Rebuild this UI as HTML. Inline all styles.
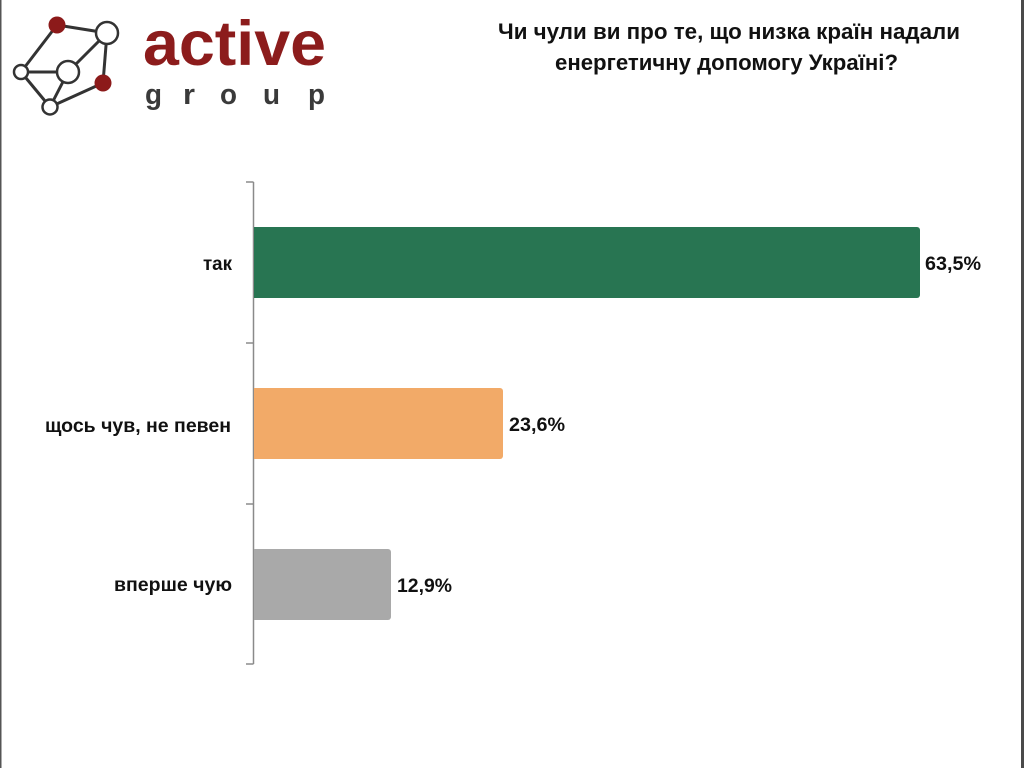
<!DOCTYPE html>
<html>
<head>
<meta charset="utf-8">
<style>
html,body{margin:0;padding:0;background:#fff;}
svg{display:block;}
text{font-family:"Liberation Sans","DejaVu Sans",sans-serif;}
</style>
</head>
<body>
<svg width="1024" height="768" viewBox="0 0 1024 768" xmlns="http://www.w3.org/2000/svg">
  <rect x="0" y="0" width="1024" height="768" fill="#ffffff"/>
  <!-- borders -->
  <rect x="0" y="0" width="1.5" height="768" fill="#555"/>
  <rect x="1021" y="0" width="3" height="768" fill="#4a4a4a"/>

  <!-- logo network -->
  <g stroke="#333" stroke-width="3" fill="none">
    <line x1="57" y1="25" x2="107" y2="33"/>
    <line x1="57" y1="25" x2="21" y2="72"/>
    <line x1="107" y1="33" x2="68" y2="72"/>
    <line x1="107" y1="33" x2="103" y2="83"/>
    <line x1="21" y1="72" x2="68" y2="72"/>
    <line x1="21" y1="72" x2="50" y2="107"/>
    <line x1="68" y1="72" x2="50" y2="107"/>
    <line x1="50" y1="107" x2="103" y2="83"/>
  </g>
  <g stroke="#333" stroke-width="2.5">
    <circle cx="107" cy="33" r="11" fill="#fff"/>
    <circle cx="21" cy="72" r="7" fill="#fff"/>
    <circle cx="68" cy="72" r="11" fill="#fff"/>
    <circle cx="50" cy="107" r="7.5" fill="#fff"/>
  </g>
  <circle cx="57" cy="25" r="8.5" fill="#8c1a1a"/>
  <circle cx="103" cy="83" r="8.5" fill="#8c1a1a"/>

  <text x="143" y="65" font-size="63" font-weight="bold" fill="#8c1c1c" textLength="183" lengthAdjust="spacingAndGlyphs">active</text>
  <g font-size="29" fill="#3a3a3a" font-weight="bold">
    <text x="145" y="104" textLength="17" lengthAdjust="spacingAndGlyphs">g</text>
    <text x="183" y="104" textLength="12" lengthAdjust="spacingAndGlyphs">r</text>
    <text x="220" y="104" textLength="17" lengthAdjust="spacingAndGlyphs">o</text>
    <text x="263" y="104" textLength="17" lengthAdjust="spacingAndGlyphs">u</text>
    <text x="308" y="104" textLength="17" lengthAdjust="spacingAndGlyphs">p</text>
  </g>

  <!-- title -->
  <g font-size="22" font-weight="bold" fill="#111">
    <text x="498" y="39" textLength="462" lengthAdjust="spacingAndGlyphs">Чи чули ви про те, що низка країн надали</text>
    <text x="555" y="70" textLength="343" lengthAdjust="spacingAndGlyphs">енергетичну допомогу Україні?</text>
  </g>

  <!-- axis -->
  <g stroke="#8a8a8a" stroke-width="1.5" fill="none">
    <line x1="253.5" y1="182" x2="253.5" y2="664"/>
    <line x1="246" y1="182" x2="253.5" y2="182"/>
    <line x1="246" y1="343" x2="253.5" y2="343"/>
    <line x1="246" y1="504" x2="253.5" y2="504"/>
    <line x1="246" y1="664" x2="253.5" y2="664"/>
  </g>

  <!-- bars -->
  <path d="M254 227 H917 a3 3 0 0 1 3 3 V295 a3 3 0 0 1 -3 3 H254 Z" fill="#287552"/>
  <path d="M254 388 H500 a3 3 0 0 1 3 3 V456 a3 3 0 0 1 -3 3 H254 Z" fill="#f2aa68"/>
  <path d="M254 549 H388 a3 3 0 0 1 3 3 V617 a3 3 0 0 1 -3 3 H254 Z" fill="#a9a9a9"/>

  <!-- category labels -->
  <g font-size="19" font-weight="bold" fill="#111">
    <text x="203" y="270" textLength="29" lengthAdjust="spacingAndGlyphs">так</text>
    <text x="45" y="432" textLength="186" lengthAdjust="spacingAndGlyphs">щось чув, не певен</text>
    <text x="114" y="591" textLength="118" lengthAdjust="spacingAndGlyphs">вперше чую</text>
  </g>

  <!-- values -->
  <g font-size="19" font-weight="bold" fill="#111">
    <text x="925" y="270" textLength="56" lengthAdjust="spacingAndGlyphs">63,5%</text>
    <text x="509" y="431" textLength="56" lengthAdjust="spacingAndGlyphs">23,6%</text>
    <text x="397" y="592" textLength="55" lengthAdjust="spacingAndGlyphs">12,9%</text>
  </g>
</svg>
</body>
</html>
